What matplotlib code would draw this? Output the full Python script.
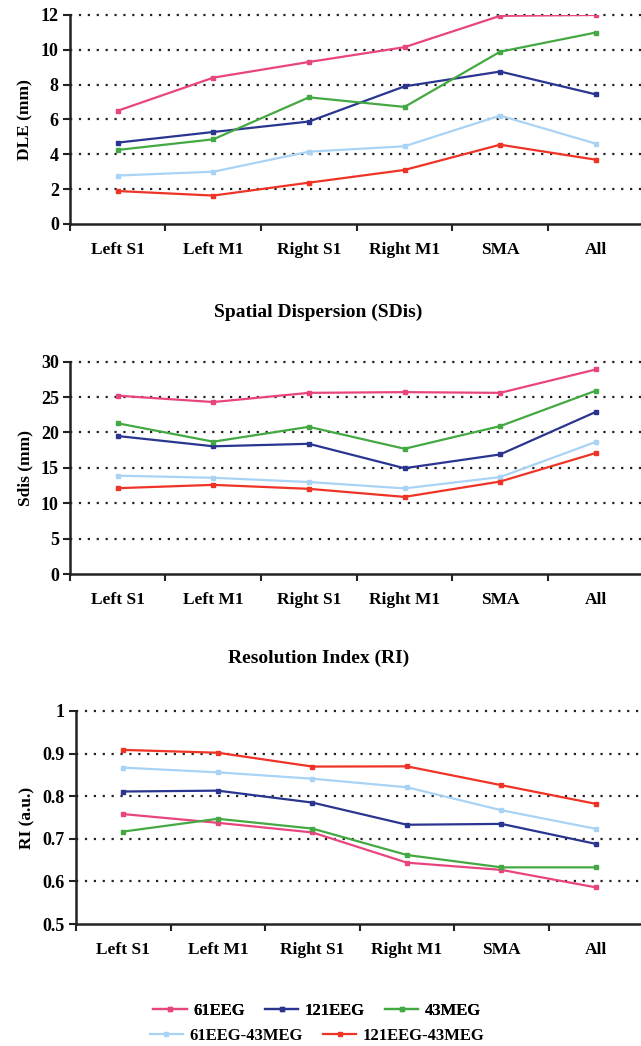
import matplotlib
matplotlib.use("Agg")
import matplotlib.pyplot as plt
import numpy as np

categories = ["Left S1", "Left M1", "Right S1", "Right M1", "SMA", "All"]
series_names = ["61EEG", "121EEG", "43MEG", "61EEG-43MEG", "121EEG-43MEG"]
colors = ["#e8457e", "#2a3590", "#44a843", "#a9d3f5", "#ef3326"]

dle_61eeg = [6.5, 8.4, 9.3, 10.15, 11.95, 12.0]
dle_121eeg = [4.67, 5.28, 5.88, 7.9, 8.75, 7.44]
dle_43meg = [4.25, 4.86, 7.27, 6.72, 9.89, 10.99]
dle_61eeg_43meg = [2.78, 3.0, 4.15, 4.46, 6.22, 4.61]
dle_121eeg_43meg = [1.89, 1.63, 2.37, 3.1, 4.55, 3.69]

sdis_61eeg = [25.2, 24.3, 25.6, 25.7, 25.6, 28.9]
sdis_121eeg = [19.5, 18.05, 18.4, 14.95, 16.9, 22.9]
sdis_43meg = [21.3, 18.7, 20.8, 17.7, 20.9, 25.9]
sdis_61eeg_43meg = [13.9, 13.6, 13.0, 12.1, 13.7, 18.66]
sdis_121eeg_43meg = [12.13, 12.6, 12.04, 10.9, 13.07, 17.1]

ri_61eeg = [0.758, 0.7375, 0.715, 0.644, 0.627, 0.586]
ri_121eeg = [0.811, 0.813, 0.785, 0.733, 0.735, 0.688]
ri_43meg = [0.717, 0.747, 0.724, 0.662, 0.633, 0.633]
ri_61eeg_43meg = [0.867, 0.856, 0.841, 0.821, 0.767, 0.7234]
ri_121eeg_43meg = [0.9086, 0.902, 0.8695, 0.870, 0.8258, 0.782]

dle = [dle_61eeg, dle_121eeg, dle_43meg, dle_61eeg_43meg, dle_121eeg_43meg]
sdis = [sdis_61eeg, sdis_121eeg, sdis_43meg, sdis_61eeg_43meg, sdis_121eeg_43meg]
ri = [ri_61eeg, ri_121eeg, ri_43meg, ri_61eeg_43meg, ri_121eeg_43meg]

plt.rcParams['font.family'] = ['Liberation Serif', 'DejaVu Serif']
plt.rcParams['font.weight'] = 'bold'

fig = plt.figure(figsize=(6.41, 10.46), dpi=100)

panels = [
    dict(data=dle, pos=[0.109, 0.7859, 0.895, 0.1998], ylim=(0, 12), yticks=[0, 2, 4, 6, 8, 10, 12],
         ylabel="DLE (mm)"),
    dict(data=sdis, pos=[0.109, 0.4512, 0.895, 0.2030], ylim=(0, 30), yticks=[0, 5, 10, 15, 20, 25, 30],
         ylabel="Sdis (mm)"),
    dict(data=ri, pos=[0.1186, 0.1166, 0.885, 0.2037], ylim=(0.5, 1.0), yticks=[0.5, 0.6, 0.7, 0.8, 0.9, 1.0],
         ylabel="RI (a.u.)"),
]

x = np.arange(len(categories))
handles = []
for i, p in enumerate(panels):
    ax = fig.add_axes(p["pos"])
    for vals, c, name in zip(p["data"], colors, series_names):
        h, = ax.plot(x, vals, color=c, lw=1.6, marker='s', ms=3.2, label=name)
        if i == 0:
            handles.append(h)
    ax.set_xlim(-0.5, len(categories) - 0.5)
    ax.set_ylim(*p["ylim"])
    ax.set_yticks(p["yticks"])
    ax.set_yticklabels(["{:g}".format(v) for v in p["yticks"]], fontsize=13, fontweight='bold')
    for v in p["yticks"][1:]:
        ax.axhline(v, color='#222222', lw=1.6, ls=(0, (1, 3.0)), zorder=0, clip_on=False)
    ax.set_xticks(x)
    ax.set_xticklabels(categories, fontsize=12.5, fontweight='bold')
    ax.tick_params(axis='x', which='major', length=0, pad=13)
    ax.set_xticks(np.arange(-0.5, len(categories)), minor=True)
    ax.tick_params(axis='x', which='minor', length=5, width=1.5, direction='out', color='#222222')
    ax.tick_params(axis='y', length=5, width=1.5, direction='out', color='#222222', pad=3)
    for s in ['top', 'right']:
        ax.spines[s].set_visible(False)
    for s in ['left', 'bottom']:
        ax.spines[s].set_linewidth(1.8)
        ax.spines[s].set_color('#222222')
    ax.set_ylabel(p["ylabel"], fontsize=12.5, fontweight='bold', labelpad=5)
    ax.set_facecolor('none')

fig.text(0.497, 1 - 312 / 1046, "Spatial Dispersion (SDis)", ha='center', va='center',
         fontsize=14, fontweight='bold')
fig.text(0.497, 1 - 658 / 1046, "Resolution Index (RI)", ha='center', va='center',
         fontsize=14, fontweight='bold')

leg1 = fig.legend(handles[:3], series_names[:3], loc='center', bbox_to_anchor=(0.495, 1 - 1011 / 1046),
                  ncol=3, frameon=False, fontsize=12, handlelength=2.0, columnspacing=1.2, handletextpad=0.4)
fig.add_artist(leg1)
leg2 = fig.legend(handles[3:], series_names[3:], loc='center', bbox_to_anchor=(0.495, 1 - 1036 / 1046),
                  ncol=2, frameon=False, fontsize=12, handlelength=2.0, columnspacing=1.2, handletextpad=0.4)

fig.savefig("out.png", dpi=100)
